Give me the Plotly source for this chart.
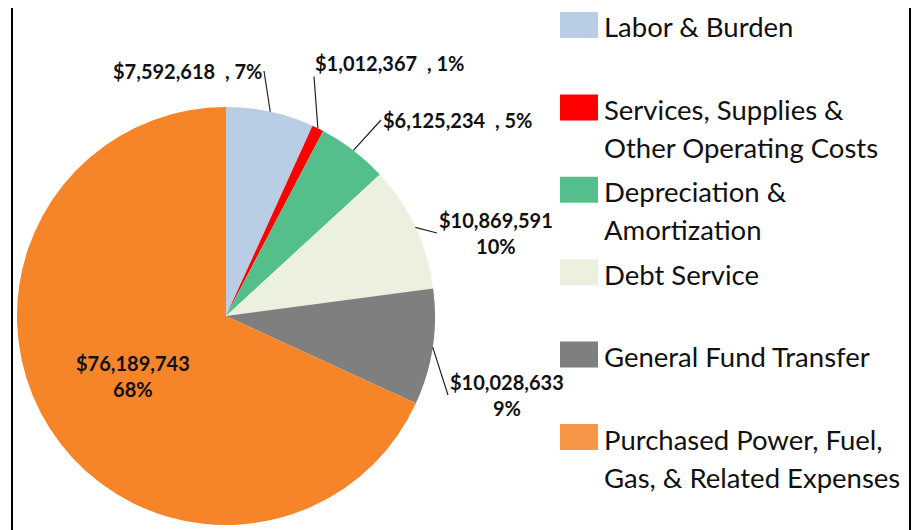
import math
import plotly.graph_objects as go

# slice data, clockwise from 12 o'clock
categories = [
    "Labor & Burden",
    "Services, Supplies &<br>Other Operating Costs",
    "Depreciation &<br>Amortization",
    "Debt Service",
    "General Fund Transfer",
    "Purchased Power, Fuel,<br>Gas, & Related Expenses",
]
amounts = [7592618, 1012367, 6125234, 10869591, 10028633, 76189743]
colors = ["#B9CDE5", "#FF0000", "#55BF8C", "#EBF1DE", "#7F7F7F", "#F68428"]
legend_colors = ["#B9CDE5", "#FF0000", "#55BF8C", "#EBF1DE", "#7F7F7F", "#F79646"]

W, H = 923, 530
OFF = 8  # page body margin
cx, cy, r = 226 - OFF, 316 - OFF, 209  # pie centre / radius in px

fig = go.Figure()
fig.add_trace(go.Pie(
    labels=[c.replace("<br>", " ") for c in categories],
    values=amounts,
    sort=False,
    direction="clockwise",
    rotation=0,
    marker=dict(colors=colors, line=dict(width=0)),
    textinfo="none",
    hoverinfo="label+value+percent",
    showlegend=False,
    domain=dict(x=[(cx - r) / W, (cx + r) / W], y=[1 - (cy + r) / H, 1 - (cy - r) / H]),
))

total = sum(amounts)
label_font = dict(family="Lato", size=20, color="#111111")


def px(x, y):
    # page pixel -> paper coords (accounts for body margin)
    return (x - OFF) / W, 1 - (y - OFF) / H


# label tails in page px: (x, y, xanchor, two-line?)
label_pos = [
    (264, 71, "right", False),
    (313, 63, "left", False),
    (381, 120, "left", False),
    (437, 233, "left", True),
    (448, 395, "left", True),
    (None, None, None, True),
]

cum = 0
for i, v in enumerate(amounts):
    mid = (cum + v / 2) / total * 2 * math.pi
    cum += v
    pct = round(v / total * 100)
    money = "${:,.0f}".format(v)
    tx, ty, xa, two = label_pos[i]
    text = f"{money}<br>{pct}%" if two else f"{money}\u00a0 , {pct}%"
    pcx, pcy = cx + OFF, cy + OFF
    if tx is None:
        # inside label for the big slice
        rr = 0.53 * r
        x, y = px(pcx + rr * math.sin(mid), pcy - rr * math.cos(mid))
        fig.add_annotation(x=x, y=y, xref="paper", yref="paper", text=f"<b>{text}</b>",
                           showarrow=False, xanchor="center", yanchor="middle",
                           font=label_font)
        continue
    ex, ey = pcx + r * math.sin(mid), pcy - r * math.cos(mid)
    x, y = px(ex, ey)
    fig.add_annotation(
        x=x, y=y, xref="paper", yref="paper",
        ax=tx - ex, ay=ty - ey,
        text=f"<b>{text}</b>", showarrow=True, arrowhead=0, arrowwidth=1.2,
        arrowcolor="#222222", xanchor=xa, yanchor="middle",
        font=label_font, standoff=0, startstandoff=0,
    )

# legend drawn on the right
leg_x0, sw_w, sw_h = 560, 38, 26
for i, cat in enumerate(categories):
    top = 12 + 82.4 * i
    x0, y0 = px(leg_x0, top)
    x1, y1 = px(leg_x0 + sw_w, top + sw_h)
    fig.add_shape(type="rect", xref="paper", yref="paper", x0=x0, x1=x1, y0=y1, y1=y0,
                  fillcolor=legend_colors[i], line=dict(width=0))
    for j, line in enumerate(cat.split("<br>")):
        lx, ly = px(602, top + 15 + 38 * j)
        fig.add_annotation(x=lx, y=ly, xref="paper", yref="paper", text=line,
                           showarrow=False, xanchor="left", yanchor="middle",
                           font=dict(family="Lato", size=27.5, color="#111111"))

# frame edges
for bx in [12, 910]:
    fx, _ = px(bx, 0)
    fig.add_shape(type="line", xref="paper", yref="paper", x0=fx, x1=fx, y0=0, y1=1,
                  line=dict(color="black", width=2))

fig.update_layout(
    width=W, height=H,
    margin=dict(l=0, r=0, t=0, b=0),
    paper_bgcolor="white",
    plot_bgcolor="white",
)

fig.write_html("out.html")
